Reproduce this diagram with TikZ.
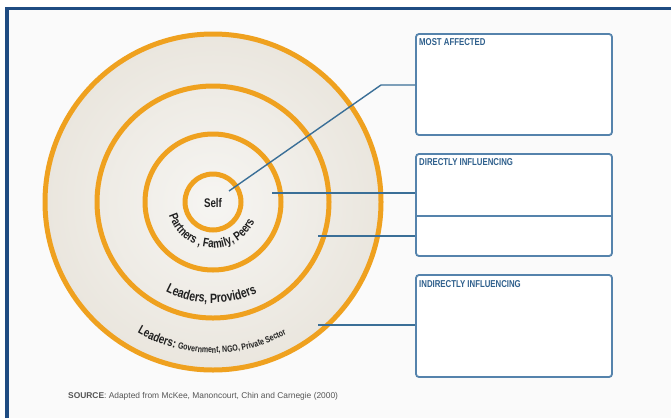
\documentclass[tikz,border=0pt]{standalone}
\usepackage{fontspec}
\setmainfont{Liberation Sans}
\newfontfamily\condfont[FakeStretch=0.78]{Liberation Sans}
\usetikzlibrary{decorations.text}

\definecolor{frameblue}{HTML}{1F4C82}
\definecolor{ringorange}{HTML}{EFA11F}
\definecolor{boxblue}{HTML}{5583AC}
\definecolor{titleblue}{HTML}{2E5F8C}
\definecolor{linkblue}{HTML}{3A6F97}
\definecolor{ringtext}{HTML}{202020}
\definecolor{srcgrey}{HTML}{555555}
\definecolor{paper}{HTML}{FAFAFA}
\definecolor{discin}{HTML}{F6F5F2}
\definecolor{discout}{HTML}{EAE6DE}

\tikzset{
  ring/.style={draw=ringorange, line width=5pt},
  infobox/.style={draw=boxblue, line width=1.8pt, rounded corners=3pt,
    fill=white, minimum width=196pt, inner sep=0pt},
  boxtitle/.style={anchor=base west, text=titleblue,
    font=\condfont\bfseries\fontsize{10}{11}\selectfont, inner sep=0pt},
  link/.style={draw=linkblue, line width=1.4pt},
  arctext/.style={decorate, decoration={text along path, text align=center,
    text color=ringtext, text={#1}}},
}

\begin{document}
\begin{tikzpicture}[x=1pt, y=-1pt]
\useasboundingbox (0,0) rectangle (671,418);
\fill[white] (0,0) rectangle (671,418);
\fill[paper] (7,8.5) rectangle (671,418);

% page frame
\draw[frameblue, line width=3.5pt] (7,418) -- (7,8.5) -- (671,8.5);

% concentric circles of influence
\coordinate (ctr) at (213,202);
\shade[inner color=discin, outer color=discout] (ctr) circle[radius=168];
\draw[ring] (ctr) circle[radius=168];
\draw[ring] (ctr) circle[radius=116];
\draw[ring] (ctr) circle[radius=68];
\draw[ring] (ctr) circle[radius=28];

\node[text=ringtext, font=\condfont\bfseries\fontsize{12.5}{13}\selectfont] (self) at (213,203) {Self};

% curved ring labels
\path[arctext={|\condfont\bfseries\fontsize{12.5}{13}\selectfont|Partners , Family, Peers}]
  (ctr) ++(168:46) arc[start angle=168, end angle=20, radius=46];
\path[arctext={|\condfont\bfseries\fontsize{13.5}{14}\selectfont|Leaders, Providers}]
  (ctr) ++(120:101) arc[start angle=120, end angle=62, radius=101];
\path[arctext={|\condfont\bfseries\fontsize{12.5}{13}\selectfont|Leaders: |\condfont\bfseries\fontsize{9}{10}\selectfont|Government, NGO, Private Sector}]
  (ctr) ++(124:151) arc[start angle=124, end angle=57, radius=151];

% category boxes
\node[infobox, minimum height=101pt] (affected) at (514,84.5) {};
\node[infobox, minimum height=102pt] (direct) at (514,205) {};
\node[infobox, minimum height=102pt] (indirect) at (514,326) {};
\draw[boxblue, line width=1.6pt] (415,216) -- (613,216);

\node[boxtitle] (taffected) at (419,45) {MOST AFFECTED};
\node[boxtitle] (tdirect) at (419,165) {DIRECTLY INFLUENCING};
\node[boxtitle] (tindirect) at (419,287) {INDIRECTLY INFLUENCING};

% connectors from the rings to the boxes
\coordinate (pself) at (229,191);
\coordinate (bend) at (381,85);
\coordinate (pinner) at (272,193);
\coordinate (pmiddle) at (318,236);
\coordinate (pouter) at (318,325);
\draw[link] (pself) -- (bend) -- (bend -| affected.west);
\draw[link] (pinner) -- (pinner -| direct.west);
\draw[link] (pmiddle) -- (pmiddle -| direct.west);
\draw[link] (pouter) -- (pouter -| indirect.west);

% source line
\node[anchor=base west, inner sep=0pt, text=srcgrey, font=\fontsize{8.4}{9}\selectfont] (src) at (68,398)
  {\textbf{SOURCE}: Adapted from McKee, Manoncourt, Chin and Carnegie (2000)};
\end{tikzpicture}
\end{document}
